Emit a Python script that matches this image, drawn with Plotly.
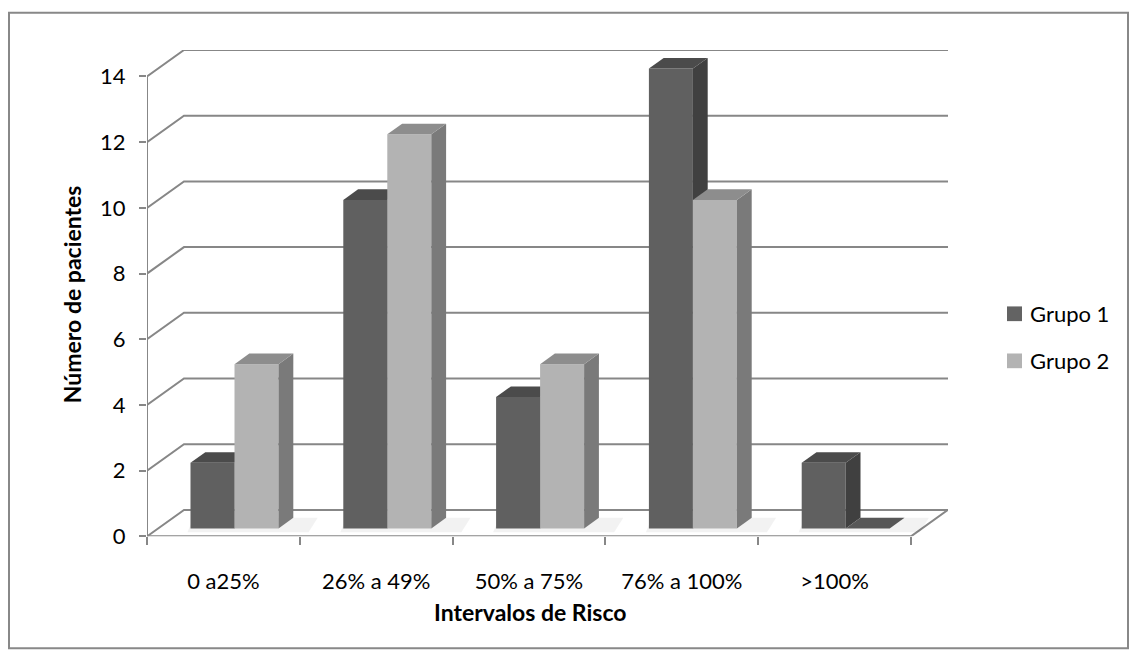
import plotly.graph_objects as go

# ---- data ----
categories = ["0 a25%", "26% a 49%", "50% a 75%", "76% a 100%", ">100%"]
grupo1 = [2, 10, 4, 14, 2]
grupo2 = [5, 12, 5, 10, 0]
series_names = ["Grupo 1", "Grupo 2"]
y_ticks = [0, 2, 4, 6, 8, 10, 12, 14]

# ---- styling / geometry constants ----
W_PX, H_PX = 1130, 668
FONT = "Lato, Carlito, 'Open Sans', sans-serif"
GRID = "#878787"
DX = 0.2421   # depth offset in category units
DY = 0.806    # depth offset in value units
A = 0.212     # gap before first bar within a category
BW = 0.288    # bar width (category units)
F = 0.30      # depth fraction of bar front face
D = 0.40      # depth fraction occupied by bar
YMAX = max(y_ticks)
N = len(categories)

face_colors = [
    dict(front="#606060", top="#4b4b4b", side="#404040", zero="#575757"),
    dict(front="#b3b3b3", top="#8d8d8d", side="#7a7a7a", zero="#575757"),
]
legend_colors = ["#636363", "#b3b3b3"]

fig = go.Figure()

def poly(xs, ys, color):
    fig.add_trace(go.Scatter(
        x=xs + [xs[0]], y=ys + [ys[0]], mode="lines", fill="toself",
        fillcolor=color, line=dict(color=color, width=0),
        hoverinfo="skip", showlegend=False))

# ---- gridlines (walls) ----
gx, gy = [], []
for v in y_ticks:
    gx += [0, DX, N + DX, None]
    gy += [v, v + DY, v + DY, None]
gx += [0, N, N + DX, None, 0, 0, None]
gy += [0, 0, DY, None, 0, YMAX, None]
fig.add_trace(go.Scatter(x=gx, y=gy, mode="lines",
                         line=dict(color=GRID, width=2),
                         hoverinfo="skip", showlegend=False))

# ---- soft floor shadows ----
for i in range(N):
    xl = i + A + F * DX
    xr = i + A + 2 * BW + F * DX
    yb = F * DY
    poly([xl - 0.02, xr + D * DX + 0.1, xr + D * DX + 0.16, xl + 0.02],
         [yb - 0.12, yb - 0.12, yb + D * DY, yb + D * DY],
         "rgba(0,0,0,0.05)")

# ---- 3D bars ----
for s, vals in enumerate([grupo1, grupo2]):
    c = face_colors[s]
    for i, v in enumerate(vals):
        xl = i + A + s * BW + F * DX
        xr = xl + BW
        yb = F * DY
        yt = yb + v
        ddx, ddy = D * DX, D * DY
        if v > 0:
            poly([xl, xr, xr, xl], [yb, yb, yt, yt], c["front"])
            poly([xr, xr + ddx, xr + ddx, xr], [yb, yb + ddy, yt + ddy, yt], c["side"])
            poly([xl, xr, xr + ddx, xl + ddx], [yt, yt, yt + ddy, yt + ddy], c["top"])
        else:
            poly([xl, xr, xr + ddx, xl + ddx], [yt, yt, yt + ddy, yt + ddy], c["zero"])

# ---- layout ----
def px_x(p):
    return p / W_PX

def px_y(p):
    return 1 - p / H_PX

shapes = [
    dict(type="rect", xref="paper", yref="paper",
         x0=px_x(9), x1=px_x(1128), y0=px_y(661), y1=px_y(13),
         line=dict(color="#888888", width=2), fillcolor="rgba(0,0,0,0)", layer="below"),
]
annotations = []
for k, name in enumerate(series_names):
    cy = 320 + k * 48
    shapes.append(dict(type="rect", xref="paper", yref="paper",
                       x0=px_x(1007), x1=px_x(1022), y0=px_y(cy + 7.5), y1=px_y(cy - 7.5),
                       fillcolor=legend_colors[k], line=dict(width=0)))
    annotations.append(dict(text=name, xref="paper", yref="paper",
                            x=px_x(1028), y=px_y(cy), xanchor="left", yanchor="middle",
                            showarrow=False, font=dict(family=FONT, size=22, color="#000")))
annotations.append(dict(text="<b>Número de pacientes</b>", xref="paper", yref="paper",
                        x=px_x(72), y=px_y(300), textangle=-90, showarrow=False,
                        xanchor="center", yanchor="middle",
                        font=dict(family=FONT, size=23, color="#000")))
annotations.append(dict(text="<b>Intervalos de Risco</b>", xref="paper", yref="paper",
                        x=px_x(530), y=px_y(624), showarrow=False,
                        xanchor="center", yanchor="middle",
                        font=dict(family=FONT, size=23, color="#000")))

fig.update_layout(
    width=W_PX, height=H_PX,
    margin=dict(l=0, r=0, t=0, b=0),
    paper_bgcolor="white", plot_bgcolor="white",
    showlegend=False,
    font=dict(family=FONT, size=22, color="#000"),
    shapes=shapes, annotations=annotations,
    xaxis=dict(
        domain=[px_x(147), px_x(948)],
        range=[0, N + DX],
        tickvals=[i + 0.5 for i in range(N)], ticktext=categories,
        ticks="", showgrid=False, zeroline=False, showline=False,
        ticklabelstandoff=30,
        minor=dict(tickvals=list(range(N + 1)), ticks="outside", ticklen=8,
                   tickwidth=2, tickcolor=GRID, showgrid=False),
        tickfont=dict(family=FONT, size=22, color="#000"),
        fixedrange=True,
    ),
    yaxis=dict(
        domain=[px_y(547), px_y(51)],
        range=[0, YMAX + DY],
        tickvals=y_ticks, ticks="outside", ticklen=7, tickwidth=2, tickcolor=GRID,
        showgrid=False, zeroline=False, showline=False,
        ticklabelstandoff=9,
        tickfont=dict(family=FONT, size=22, color="#000"),
        fixedrange=True,
    ),
)

fig.write_html("out.html")
